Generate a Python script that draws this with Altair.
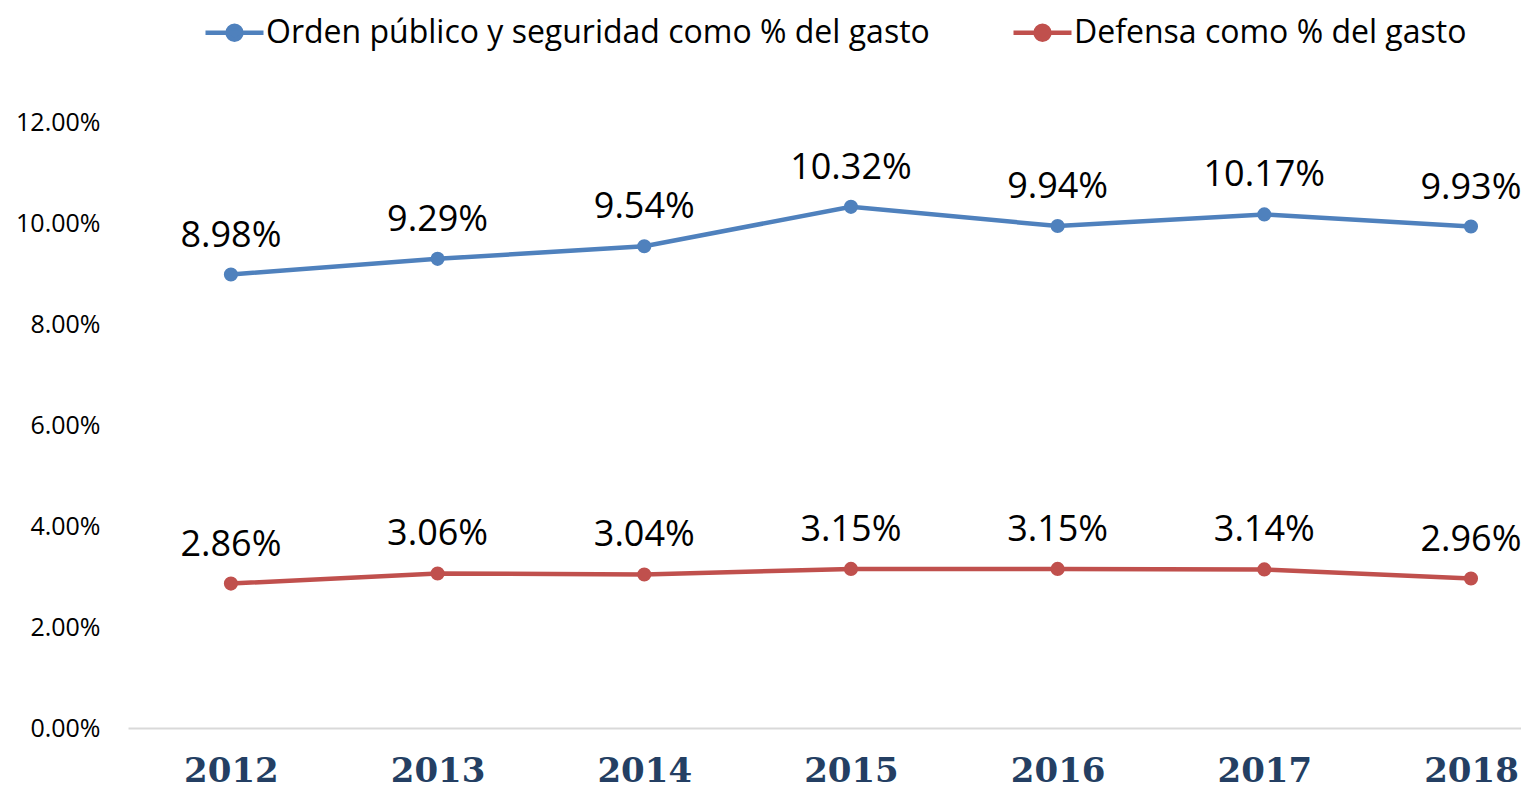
import altair as alt
import pandas as pd

years = [2012, 2013, 2014, 2015, 2016, 2017, 2018]
orden = [0.0898, 0.0929, 0.0954, 0.1032, 0.0994, 0.1017, 0.0993]
defensa = [0.0286, 0.0306, 0.0304, 0.0315, 0.0315, 0.0314, 0.0296]
series_names = ["Orden público y seguridad como % del gasto", "Defensa como % del gasto"]
colors = ["#4F81BD", "#C0504D"]
y_ticks = [0, 0.02, 0.04, 0.06, 0.08, 0.10, 0.12]

rows = []
for name, vals in zip(series_names, [orden, defensa]):
    for yr, v in zip(years, vals):
        rows.append({"year": yr, "value": v, "series": name})
df = pd.DataFrame(rows)

legend_path = ("M -1 0 L 1 0 M -0.24 0 A 0.24 0.24 0 1 0 0.24 0 "
               "A 0.24 0.24 0 1 0 -0.24 0 Z")

x_enc = alt.X("year:Q",
              scale=alt.Scale(domain=[2011.502, 2018.242], nice=False, zero=False),
              axis=alt.Axis(values=years, format="d", title=None, grid=False, ticks=False,
                            domainColor="#D9D9D9", domainWidth=2,
                            labelFont="DejaVu Serif", labelFontWeight="bold",
                            labelFontSize=34, labelColor="#243F63", labelPadding=26,
                            labelBaseline="top"))
y_enc = alt.Y("value:Q",
              scale=alt.Scale(domain=[0, 0.12], nice=False),
              axis=alt.Axis(values=y_ticks, format=".2%", title=None, grid=False,
                            ticks=False, domain=False, labelFont="Open Sans",
                            labelFontSize=25, labelColor="#000000", labelPadding=28))
color_enc = alt.Color("series:N",
                      scale=alt.Scale(domain=series_names, range=colors),
                      legend=alt.Legend(title=None, orient="none", direction="horizontal",
                                        legendX=75, legendY=-121,
                                        symbolType=legend_path, symbolSize=3364,
                                        symbolStrokeWidth=4.5, labelFont="Open Sans",
                                        labelFontSize=32, labelColor="#000000",
                                        labelOffset=0, columnPadding=74,
                                        labelLimit=1000))

lines = alt.Chart(df).mark_line(
    strokeWidth=4.5,
    point=alt.OverlayMarkDef(size=200, filled=True)
).encode(x=x_enc, y=y_enc, color=color_enc)

labels = alt.Chart(df).mark_text(
    dy=-28, baseline="alphabetic", font="Open Sans", fontSize=36, color="#000000"
).encode(x="year:Q", y="value:Q", text=alt.Text("value:Q", format=".2%"))

chart = alt.layer(lines, labels).properties(
    width=1393, height=606, autosize="none",
    padding={"left": 120, "top": 114, "right": 0, "bottom": 60}
).configure_view(stroke=None)

chart.save("out.html", embed_options={"renderer": "svg", "actions": False})
